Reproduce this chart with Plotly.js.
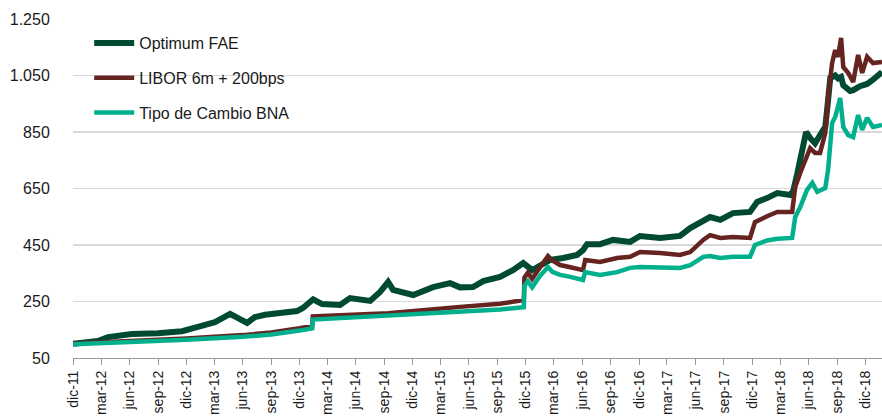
<!DOCTYPE html>
<html>
<head>
<meta charset="utf-8">
<script src="https://cdn.plot.ly/plotly-3.0.1.min.js"></script>
<style>
html,body{margin:0;padding:0;background:#fff;}
#chart{width:882px;height:416px;}
</style>
</head>
<body>
<div id="chart"></div>
<script>
const fechasFAE = ['2011-12-01','2012-02-19','2012-03-23','2012-06-08','2012-08-31','2012-11-17','2013-01-07','2013-03-03','2013-04-21','2013-06-15','2013-07-10','2013-08-12','2013-09-29','2013-11-23','2013-12-12','2014-01-14','2014-02-12','2014-04-11','2014-05-13','2014-07-17','2014-08-18','2014-09-13','2014-09-29','2014-12-03','2015-02-05','2015-04-01','2015-05-03','2015-06-14','2015-07-17','2015-09-09','2015-10-21','2015-11-23','2015-12-22','2016-01-16','2016-02-18','2016-03-31','2016-05-15','2016-06-03','2016-06-16','2016-07-28','2016-09-08','2016-11-02','2016-12-04','2017-02-07','2017-04-12','2017-05-15','2017-06-16','2017-07-18','2017-08-20','2017-09-30','2017-11-24','2017-12-17','2018-01-18','2018-02-20','2018-04-03','2018-04-12','2018-04-25','2018-05-05','2018-05-24','2018-06-06','2018-06-22','2018-07-18','2018-07-25','2018-08-03','2018-08-10','2018-08-26','2018-09-04','2018-09-14','2018-09-21','2018-10-13','2018-10-23','2018-11-14','2018-12-07','2018-12-26','2019-01-24'];
const valoresFAE = [100,110,124,135,138,145,160,177,206,174,195,203,209,216,227,258,241,238,262,252,284,319,291,273,301,315,300,301,322,337,361,386,361,379,397,404,415,432,453,453,468,461,482,475,482,510,528,549,539,563,567,602,616,634,627,640,700,745,850,829,810,857,868,963,1041,1050,1040,1045,1015,995,998,1012,1020,1035,1062];

const fechasLIBOR = ['2011-12-01','2012-06-01','2012-12-01','2013-06-01','2013-09-01','2013-12-01','2014-01-11','2014-01-13','2014-04-11','2014-09-13','2015-05-03','2015-09-09','2015-11-25','2015-11-27','2015-12-08','2015-12-22','2016-01-16','2016-02-11','2016-02-25','2016-03-21','2016-04-20','2016-06-03','2016-06-10','2016-07-28','2016-09-21','2016-11-02','2016-12-04','2017-02-07','2017-04-12','2017-05-15','2017-06-26','2017-07-18','2017-08-20','2017-09-30','2017-11-24','2017-12-10','2018-01-18','2018-02-20','2018-04-09','2018-04-19','2018-05-05','2018-05-21','2018-06-06','2018-06-22','2018-07-08','2018-07-25','2018-08-03','2018-08-16','2018-08-26','2018-09-04','2018-09-14','2018-09-21','2018-10-07','2018-10-23','2018-11-08','2018-11-21','2018-12-07','2018-12-26','2019-01-24'];
const valoresLIBOR = [101,109,119,131,140,155,163,197,200,208,231,242,255,335,352,330,370,411,395,379,372,361,397,390,404,408,425,422,415,425,468,485,475,478,475,531,552,567,567,655,705,751,793,776,776,847,974,1094,1140,1116,1183,1080,1059,1027,1123,1059,1116,1094,1098];

const fechasBNA = ['2011-12-01','2012-06-01','2012-12-01','2013-06-01','2013-09-01','2013-12-01','2014-01-11','2014-01-13','2014-04-11','2014-09-13','2015-04-01','2015-09-09','2015-11-25','2015-11-27','2015-12-08','2015-12-22','2016-01-16','2016-02-11','2016-02-25','2016-03-21','2016-04-20','2016-06-03','2016-06-10','2016-07-28','2016-09-21','2016-11-02','2016-12-04','2017-02-07','2017-04-12','2017-05-15','2017-06-26','2017-07-18','2017-08-20','2017-09-30','2017-11-24','2017-12-10','2018-01-18','2018-02-20','2018-04-09','2018-04-19','2018-05-05','2018-05-27','2018-06-13','2018-06-29','2018-07-25','2018-08-03','2018-08-16','2018-08-26','2018-09-11','2018-09-21','2018-10-07','2018-10-23','2018-11-08','2018-11-21','2018-12-07','2018-12-26','2019-01-24'];
const valoresBNA = [99,106,115,125,133,147,155,186,191,198,210,222,230,305,322,300,340,372,355,344,338,326,354,344,354,369,372,372,369,379,408,411,404,408,408,450,466,472,475,549,584,645,670,638,652,716,882,903,970,868,839,832,910,857,900,868,875];

const nombresSeries = ['Optimum FAE','LIBOR 6m + 200bps','Tipo de Cambio BNA'];

const tickFechas = ['2011-12-01','2012-03-01','2012-06-01','2012-09-01','2012-12-01','2013-03-01','2013-06-01','2013-09-01','2013-12-01','2014-03-01','2014-06-01','2014-09-01','2014-12-01','2015-03-01','2015-06-01','2015-09-01','2015-12-01','2016-03-01','2016-06-01','2016-09-01','2016-12-01','2017-03-01','2017-06-01','2017-09-01','2017-12-01','2018-03-01','2018-06-01','2018-09-01','2018-12-01'];
const tickEtiquetas = ['dic-11','mar-12','jun-12','sep-12','dic-12','mar-13','jun-13','sep-13','dic-13','mar-14','jun-14','sep-14','dic-14','mar-15','jun-15','sep-15','dic-15','mar-16','jun-16','sep-16','dic-16','mar-17','jun-17','sep-17','dic-17','mar-18','jun-18','sep-18','dic-18'];
const yTicks = [50,250,450,650,850,1050,1250];

const FONT = '"Liberation Sans", Arial, sans-serif';

const traces = [
  {x: fechasFAE, y: valoresFAE, name: nombresSeries[0], legendgroup: 'a', type: 'scatter', mode: 'lines', line: {color: '#004A34', width: 6}},
  {x: fechasLIBOR, y: valoresLIBOR, name: nombresSeries[1], legendgroup: 'b', type: 'scatter', mode: 'lines', line: {color: '#662420', width: 4.5}},
  {x: fechasBNA, y: valoresBNA, name: nombresSeries[2], legendgroup: 'c', type: 'scatter', mode: 'lines', line: {color: '#00B08C', width: 4.5}}
];

const layout = {
  width: 882, height: 416,
  margin: {l: 73, r: 0, t: 19, b: 58},
  paper_bgcolor: '#fff', plot_bgcolor: '#fff',
  separators: ',.',
  font: {family: FONT, size: 16, color: '#1a1a1a'},
  showlegend: true,
  legend: {
    x: 0.02, y: 0.979, xanchor: 'left', yanchor: 'top',
    bgcolor: 'rgba(0,0,0,0)', borderwidth: 0,
    tracegroupgap: 11, itemwidth: 40,
    font: {family: FONT, size: 16, color: '#1a1a1a'}
  },
  xaxis: {
    type: 'date',
    range: ['2011-12-01', '2019-01-24'],
    tickmode: 'array', tickvals: tickFechas, ticktext: tickEtiquetas,
    tickangle: -90,
    ticks: 'outside', ticklen: 6, tickcolor: '#9a9a9a', tickwidth: 1,
    showline: true, linecolor: '#9a9a9a', linewidth: 1,
    showgrid: false, zeroline: false,
    tickfont: {family: FONT, size: 14, color: '#1a1a1a'}
  },
  yaxis: {
    range: [50, 1250],
    tickmode: 'array', tickvals: yTicks,
    tickformat: ',d',
    ticks: 'outside', ticklen: 19, tickcolor: 'rgba(0,0,0,0)',
    showline: false, zeroline: false,
    showgrid: true, gridcolor: '#d9d9d9', gridwidth: 1.5,
    tickfont: {family: FONT, size: 16, color: '#1a1a1a'}
  },
  hovermode: false
};

Plotly.newPlot('chart', traces, layout, {displayModeBar: false, staticPlot: true});
</script>
</body>
</html>
